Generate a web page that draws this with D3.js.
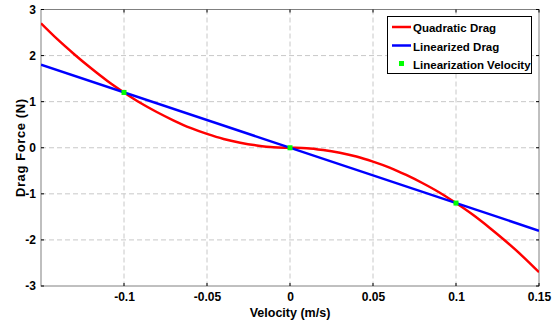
<!DOCTYPE html>
<html><head><meta charset="utf-8">
<script src="https://cdn.jsdelivr.net/npm/d3@7"></script>
<style>
html,body{margin:0;padding:0;background:#fff;}
svg{display:block;font-family:"Liberation Sans",Arial,sans-serif;font-weight:bold;}
</style></head>
<body>
<script>
// Data
const velocity = [-0.15,-0.14,-0.13,-0.12,-0.11,-0.10,-0.09,-0.08,-0.07,-0.06,-0.05,-0.04,-0.03,-0.02,-0.01,0,
  0.01,0.02,0.03,0.04,0.05,0.06,0.07,0.08,0.09,0.10,0.11,0.12,0.13,0.14,0.15];
const quadraticDrag = [2.70,2.35,2.03,1.73,1.45,1.20,0.97,0.77,0.59,0.43,0.30,0.19,0.11,0.05,0.01,0,
  -0.01,-0.05,-0.11,-0.19,-0.30,-0.43,-0.59,-0.77,-0.97,-1.20,-1.45,-1.73,-2.03,-2.35,-2.70];
const linearVelocity = [-0.15, 0.15];
const linearizedDrag = [1.80, -1.80];
const linPointV = [-0.1, 0, 0.1];
const linPointF = [1.2, 0, -1.2];
const xTicks = [-0.1,-0.05,0,0.05,0.1,0.15];
const xTickLabels = ["-0.1","-0.05","0","0.05","0.1","0.15"];
const yTicks = [-3,-2,-1,0,1,2,3];
const yTickLabels = ["-3","-2","-1","0","1","2","3"];
const legendLabels = ["Quadratic Drag","Linearized Drag","Linearization Velocity"];

const W=556,H=324;
const L=41,R=539,T=9.5,B=286;
const svg=d3.select("body").append("svg").attr("width",W).attr("height",H);
const x=d3.scaleLinear().domain([-0.15,0.15]).range([L,R]);
const y=d3.scaleLinear().domain([-3,3]).range([B,T]);

// grid
const g=svg.append("g");
g.selectAll(".gx").data(xTicks.filter(v=>v<0.15)).enter().append("line")
  .attr("x1",d=>x(d)).attr("x2",d=>x(d)).attr("y1",T).attr("y2",B)
  .attr("stroke","#c8c8c8").attr("stroke-dasharray","5,3").attr("stroke-width",1);
g.selectAll(".gy").data(yTicks.filter(v=>v>-3&&v<3)).enter().append("line")
  .attr("y1",d=>y(d)).attr("y2",d=>y(d)).attr("x1",L).attr("x2",R)
  .attr("stroke","#c8c8c8").attr("stroke-dasharray","5,3").attr("stroke-width",1);

// frame
svg.append("rect").attr("x",L).attr("y",T).attr("width",R-L).attr("height",B-T)
  .attr("fill","none").attr("stroke","#808080").attr("stroke-width",1);

// axes
const xAxis=d3.axisBottom(x).tickValues(xTicks).tickFormat((d,i)=>xTickLabels[i]).tickSize(0).tickPadding(6);
const ax=svg.append("g").attr("transform",`translate(0,${B})`).call(xAxis);
ax.select(".domain").remove();
ax.selectAll("text").attr("font-size",12).attr("font-weight","bold").attr("fill","#000")
  .attr("font-family","Liberation Sans, Arial, sans-serif");
const yAxis=d3.axisLeft(y).tickValues(yTicks).tickFormat((d,i)=>yTickLabels[i]).tickSize(0).tickPadding(5);
const ay=svg.append("g").attr("transform",`translate(${L},0)`).call(yAxis);
ay.select(".domain").remove();
ay.selectAll("text").attr("font-size",12).attr("font-weight","bold").attr("fill","#000")
  .attr("font-family","Liberation Sans, Arial, sans-serif");

// inner tick marks
const tk=svg.append("g").attr("stroke","#000").attr("stroke-width",1);
xTicks.forEach(v=>{
  tk.append("line").attr("x1",x(v)).attr("x2",x(v)).attr("y1",B).attr("y2",B-3);
  tk.append("line").attr("x1",x(v)).attr("x2",x(v)).attr("y1",T).attr("y2",T+3);
});
yTicks.forEach(v=>{
  tk.append("line").attr("x1",L).attr("x2",L+3).attr("y1",y(v)).attr("y2",y(v));
  tk.append("line").attr("x1",R).attr("x2",R-3).attr("y1",y(v)).attr("y2",y(v));
});

// lines
const clip=svg.append("clipPath").attr("id","c").append("rect").attr("x",L).attr("y",T).attr("width",R-L).attr("height",B-T);
const line=d3.line().x(d=>x(d[0])).y(d=>y(d[1])).curve(d3.curveMonotoneX);
svg.append("path").datum(velocity.map((v,i)=>[v,quadraticDrag[i]]))
  .attr("d",line).attr("fill","none").attr("stroke","#ff0000").attr("stroke-width",2.5).attr("clip-path","url(#c)");
svg.append("path").datum(linearVelocity.map((v,i)=>[v,linearizedDrag[i]]))
  .attr("d",d3.line().x(d=>x(d[0])).y(d=>y(d[1]))).attr("fill","none").attr("stroke","#0000ff").attr("stroke-width",2.5).attr("clip-path","url(#c)");
svg.selectAll(".pt").data(linPointV.map((v,i)=>[v,linPointF[i]])).enter().append("rect")
  .attr("x",d=>x(d[0])-2.5).attr("y",d=>y(d[1])-2.5).attr("width",5).attr("height",5).attr("fill","#00ff00");

// axis labels
svg.append("text").attr("x",(L+R)/2).attr("y",316.5).attr("text-anchor","middle")
  .attr("font-size",12.5).attr("font-weight","bold").text("Velocity (m/s)");
svg.append("text").attr("transform",`translate(24.5,${(T+B)/2}) rotate(-90)`).attr("text-anchor","middle")
  .attr("font-size",13).attr("letter-spacing",0.6).attr("font-weight","bold").text("Drag Force (N)");

// legend
const lg=svg.append("g");
lg.append("rect").attr("x",387.5).attr("y",16.5).attr("width",144).attr("height",57)
  .attr("fill","#fff").attr("stroke","#000").attr("stroke-width",1);
const ly=[28,46.5,64.5];
const lc=["#ff0000","#0000ff","#00ff00"];
legendLabels.forEach((t,i)=>{
  if(i<2) lg.append("line").attr("x1",392).attr("x2",411).attr("y1",ly[i]-1).attr("y2",ly[i]-1).attr("stroke",lc[i]).attr("stroke-width",2.5);
  else lg.append("rect").attr("x",399).attr("y",ly[i]-3.5).attr("width",5).attr("height",5).attr("fill",lc[i]);
  lg.append("text").attr("x",413).attr("y",ly[i]+4).attr("font-size",11.5).attr("font-weight","bold").text(t);
});
</script>
</body></html>
